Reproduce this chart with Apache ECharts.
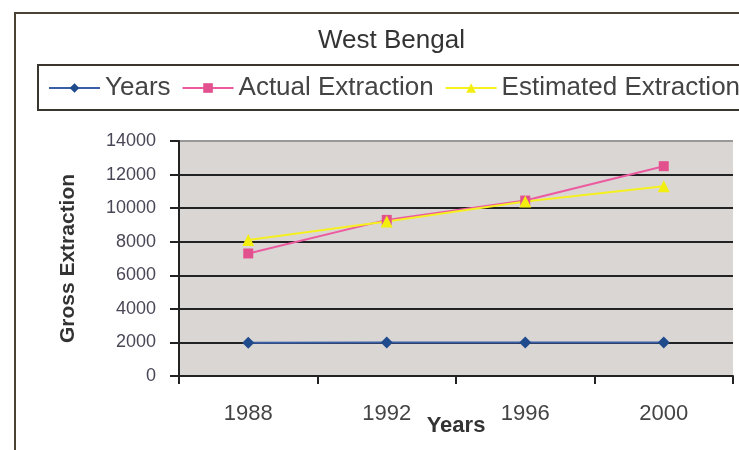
<!DOCTYPE html>
<html>
<head>
<meta charset="utf-8">
<script src="https://cdn.jsdelivr.net/npm/echarts@6/dist/echarts.min.js"></script>
<style>
  html, body { margin: 0; padding: 0; background: #fff; }
  #chart { width: 739px; height: 450px; }
</style>
</head>
<body>
<div id="chart"></div>
<script>
const years = ['1988', '1992', '1996', '2000']
const yearsSeries = [1988, 1992, 1996, 2000]
const actualExtraction = [7300, 9300, 10450, 12500]
const estimatedExtraction = [8100, 9200, 10400, 11300]

const chart = echarts.init(document.getElementById('chart'))
const font = 'Liberation Sans, Arial, sans-serif'

chart.setOption({
  animation: false,
  textStyle: { fontFamily: font },
  graphic: [{
    type: 'rect',
    silent: true,
    z: -1,
    shape: { x: 15, y: 13, width: 800, height: 500 },
    style: { fill: 'none', stroke: '#4a4232', lineWidth: 2 }
  }],
  title: {
    text: 'West Bengal',
    left: 318,
    top: 28,
    padding: 0,
    textStyle: { fontFamily: font, fontSize: 26, fontWeight: 'normal', color: '#333' }
  },
  legend: {
    left: 38,
    top: 65,
    width: 900,
    padding: [10, 10, 9, 10],
    itemWidth: 51,
    itemHeight: 12,
    itemGap: 11,
    borderColor: '#3a362e',
    borderWidth: 2,
    textStyle: { fontFamily: font, fontSize: 26, color: '#444' }
  },
  grid: {
    left: 179,
    right: 6,
    top: 141,
    bottom: 74,
    outerBoundsMode: 'none',
    show: true,
    backgroundColor: '#dad6d4',
    borderWidth: 0
  },
  xAxis: {
    type: 'category',
    data: years,
    boundaryGap: true,
    name: 'Years',
    nameLocation: 'middle',
    nameGap: 39,
    nameMoveOverlap: false,
    nameTextStyle: { fontFamily: font, fontSize: 22, fontWeight: 'bold', color: '#333' },
    axisLine: { lineStyle: { color: '#222', width: 2 } },
    axisTick: { show: true, length: 8, lineStyle: { color: '#222', width: 2 } },
    axisLabel: { fontFamily: font, fontSize: 22, margin: 27, color: '#444' }
  },
  yAxis: {
    type: 'value',
    min: 0,
    max: 14000,
    interval: 2000,
    name: 'Gross Extraction',
    nameLocation: 'middle',
    nameGap: 100,
    nameMoveOverlap: false,
    nameTextStyle: { fontFamily: font, fontSize: 21, fontWeight: 'bold', color: '#333' },
    axisLine: { show: true, lineStyle: { color: '#222', width: 2 } },
    axisTick: { show: true, length: 9, lineStyle: { color: '#222', width: 2 } },
    axisLabel: {
      fontFamily: font,
      fontSize: 18,
      margin: 23,
      color: '#4a4656',
      formatter: v => String(v)
    },
    splitLine: {
      show: true,
      lineStyle: {
        color: ['#222', '#222', '#222', '#222', '#222', '#222', '#222', '#999'],
        width: 2
      }
    }
  },
  series: [{
    name: 'Years',
    type: 'line',
    data: yearsSeries,
    symbol: 'diamond',
    symbolSize: 12,
    color: '#2a4f96',
    lineStyle: { width: 2, color: '#3a5fa8' },
    itemStyle: { color: '#1f4a8c' }
  }, {
    name: 'Actual Extraction',
    type: 'line',
    data: actualExtraction,
    symbol: 'rect',
    symbolSize: 10,
    color: '#e8559a',
    lineStyle: { width: 2, color: '#ec5aa0' },
    itemStyle: { color: '#e2508e' }
  }, {
    name: 'Estimated Extraction',
    type: 'line',
    data: estimatedExtraction,
    symbol: 'triangle',
    symbolSize: 12,
    color: '#f2ee10',
    lineStyle: { width: 2, color: '#f5f020' },
    itemStyle: { color: '#f2ee10' }
  }]
})
</script>
</body>
</html>
